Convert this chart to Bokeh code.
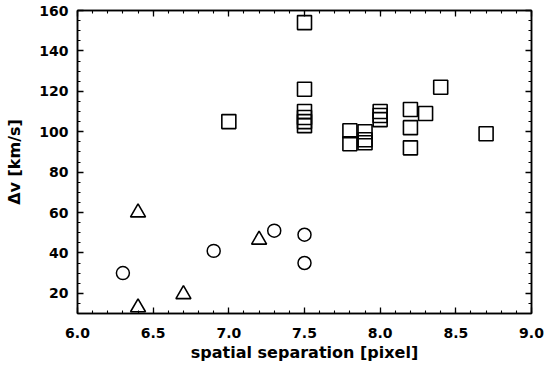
from bokeh.plotting import figure
from bokeh.models import Range1d, LinearAxis, SingleIntervalTicker, NumeralTickFormatter, CustomJSTickFormatter
from bokeh.embed import file_html
from bokeh.resources import INLINE

# squares
sq_x = [7.5, 7.5, 7.5, 7.5, 7.5, 7.5, 7.0, 7.8, 7.8, 7.9, 7.9, 7.9, 8.0, 8.0, 8.0,
        8.2, 8.2, 8.2, 8.3, 8.4, 8.7]
sq_y = [154, 121, 110, 107, 105, 103, 105, 100.5, 94, 100, 96, 94.5, 110, 108, 106,
        111, 102, 92, 109, 122, 99]
# circles
ci_x = [6.3, 6.9, 7.3, 7.5, 7.5]
ci_y = [30, 41, 51, 49, 35]
# triangles
tr_x = [6.4, 6.4, 6.7, 7.2]
tr_y = [60, 13, 19.5, 46.5]

x_title = "spatial separation [pixel]"
y_title = "\u0394v [km/s]"

FONT = "DejaVu Sans"

p = figure(width=545, height=369, output_backend="svg", toolbar_location=None,
           x_range=Range1d(6.0, 9.0), y_range=Range1d(10, 160),
           min_border_left=77, min_border_right=14, min_border_top=10, min_border_bottom=56,
           x_axis_location=None, y_axis_location=None)
p.grid.visible = False
p.background_fill_color = "white"
p.border_fill_color = "white"
p.outline_line_color = "black"
p.outline_line_width = 1.5

xt = SingleIntervalTicker(interval=0.5, num_minor_ticks=5)
yt = SingleIntervalTicker(interval=20, num_minor_ticks=4)

def style(ax, labels=True):
    ax.major_tick_in = 6
    ax.major_tick_out = 0
    ax.minor_tick_in = 3
    ax.minor_tick_out = 0
    ax.major_tick_line_color = "black"
    ax.minor_tick_line_color = "black"
    ax.major_tick_line_width = 1.3
    ax.minor_tick_line_width = 1.1
    ax.axis_line_color = "black"
    ax.axis_line_width = 1.5
    if labels:
        ax.major_label_text_font = FONT
        ax.major_label_text_font_style = "bold"
        ax.major_label_text_font_size = "14px"
        ax.major_label_text_color = "black"
        ax.axis_label_text_font = FONT
        ax.axis_label_text_font_style = "bold"
        ax.axis_label_text_font_size = "16px"
        ax.axis_label_text_color = "black"
    else:
        ax.formatter = CustomJSTickFormatter(code="return ''")
        ax.major_label_standoff = 0

xb = LinearAxis(ticker=xt, formatter=NumeralTickFormatter(format="0.0"), axis_label=x_title)
style(xb)
xb.major_label_standoff = 14
xb.axis_label_standoff = 2
p.add_layout(xb, "below")

yl = LinearAxis(ticker=yt, axis_label=y_title)
style(yl)
yl.major_label_standoff = 9
yl.axis_label_standoff = 12
p.add_layout(yl, "left")

xa = LinearAxis(ticker=xt)
style(xa, labels=False)
p.add_layout(xa, "above")
yr = LinearAxis(ticker=yt)
style(yr, labels=False)
p.add_layout(yr, "right")

p.scatter(sq_x, sq_y, marker="square", size=14, fill_color=None, line_color="black", line_width=1.6)
p.scatter(ci_x, ci_y, marker="circle", size=13, fill_color=None, line_color="black", line_width=1.5)
p.scatter(tr_x, tr_y, marker="triangle", size=15, fill_color=None, line_color="black", line_width=1.6)

open("out.html", "w").write(file_html(p, INLINE))
